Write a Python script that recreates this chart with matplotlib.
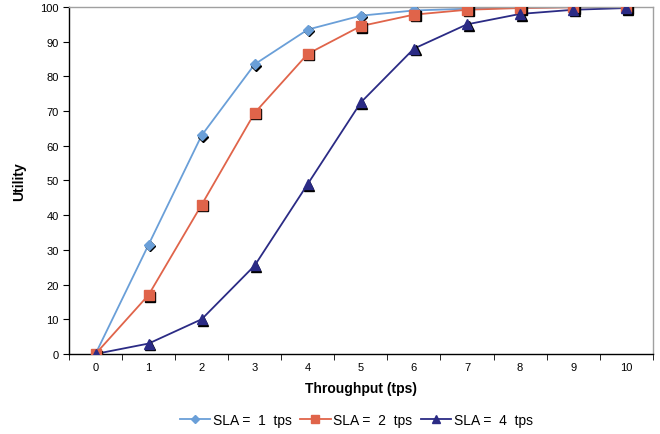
import matplotlib
matplotlib.use("Agg")
import matplotlib.pyplot as plt
import matplotlib.transforms as mtransforms
import numpy as np

plt.rcParams['font.family'] = ['Liberation Sans', 'DejaVu Sans']

throughput = np.arange(0, 11)
sla1 = [0, 31.5, 63, 83.5, 93.5, 97.5, 99, 99.5, 99.8, 100, 100]
sla2 = [0, 17, 43, 69.5, 86.5, 94.5, 97.8, 99.2, 99.7, 99.9, 100]
sla4 = [0, 3, 10, 25.5, 49, 72.5, 88, 95, 98, 99.2, 99.7]

series = [
    (sla1, "SLA =  1  tps", "#6A9FD8", "D", 5.5),
    (sla2, "SLA =  2  tps", "#E0644A", "s", 7),
    (sla4, "SLA =  4  tps", "#2B2B85", "^", 7.5),
]

fig = plt.figure(figsize=(6.6, 4.35), dpi=100)
ax = fig.add_axes([0.1045, 0.184, 0.8845, 0.7976])

shadow = mtransforms.offset_copy(ax.transData, fig=fig, x=1.6, y=-1.6, units='dots')
handles = []
for vals, lab, col, mk, ms in series:
    ax.plot(throughput, vals, color=col, lw=1.3, zorder=2)
    ax.plot(throughput, vals, ls='none', marker=mk, ms=ms, color='black',
            mec='black', transform=shadow, zorder=3)
for vals, lab, col, mk, ms in series:
    ax.plot(throughput, vals, ls='none', marker=mk, ms=ms, color=col,
            mec=col, zorder=4)
    handles.append(ax.plot([], [], color=col, lw=1.3, marker=mk, ms=ms - 1.5,
                           mec=col, label=lab)[0])

ax.set_xlim(-0.5, 10.5)
ax.set_ylim(0, 100)
ax.set_yticks(np.arange(0, 101, 10))
ax.set_xticks(throughput)
ax.set_xticks(np.arange(-0.5, 10.6, 1), minor=True)
ax.tick_params(axis='x', which='major', length=0, labelsize=8, pad=6)
ax.tick_params(axis='x', which='minor', length=4, direction='out', color='black')
ax.tick_params(axis='y', length=4, direction='out', labelsize=8)

for side in ['top', 'right']:
    ax.spines[side].set_color('#A0A0A0')
    ax.spines[side].set_linewidth(1.0)
for side in ['left', 'bottom']:
    ax.spines[side].set_color('black')
    ax.spines[side].set_linewidth(1.0)

ax.set_xlabel("Throughput (tps)", fontsize=10, fontweight='bold', labelpad=6)
ax.set_ylabel("Utility", fontsize=10, fontweight='bold', labelpad=10)

fig.legend(handles=handles, loc='center', bbox_to_anchor=(0.54, 0.033), ncol=3,
           frameon=False, fontsize=10, handlelength=2.2, columnspacing=0.6,
           handletextpad=0.2)

fig.savefig("out.png", dpi=100)
